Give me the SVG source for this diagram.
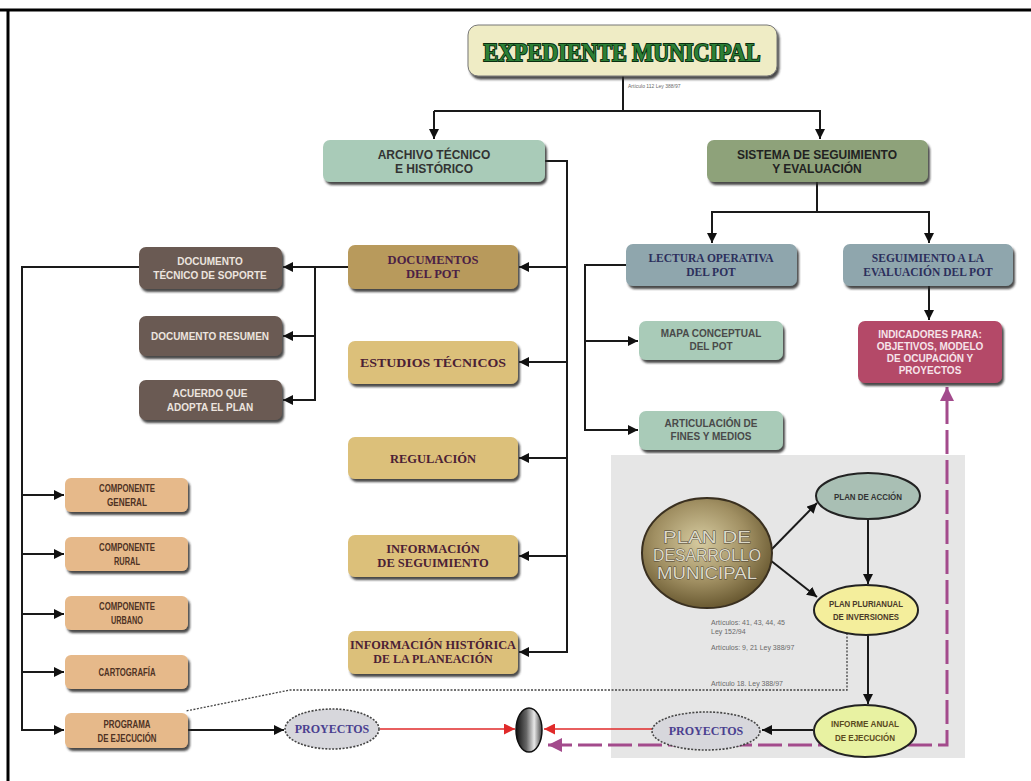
<svg xmlns="http://www.w3.org/2000/svg" width="1031" height="781" viewBox="0 0 1031 781">
<style>
.box{filter:url(#sh)}
.sans{font-family:"Liberation Sans",Arial,sans-serif;font-weight:bold;text-anchor:middle}
.serif{font-family:"Liberation Serif","Times New Roman",serif;font-weight:bold;text-anchor:middle}
.ln{fill:none;stroke:#1a1a1a;stroke-width:2}
.ar{marker-end:url(#ah)}
.small{font-family:"Liberation Sans",Arial,sans-serif;fill:#6a6a6a}
.comp{font-family:"Liberation Sans",Arial,sans-serif;font-weight:bold;text-anchor:middle;fill:#4e3224;font-size:10px}
.ell{font-family:"Liberation Sans",Arial,sans-serif;font-weight:bold;text-anchor:middle;font-size:9.5px}
.pdm{font-family:"Liberation Sans",Arial,sans-serif;font-size:17px;text-anchor:middle;fill:#dcd9c8;stroke:#4a4030;stroke-width:0.8;paint-order:stroke}
</style>
<defs>
<filter id="sh" x="-10%" y="-20%" width="130%" height="150%">
<feDropShadow dx="2" dy="3" stdDeviation="1" flood-color="#2a2a2a" flood-opacity="0.85"/>
</filter>
<marker id="ah" viewBox="0 0 10 10" refX="10" refY="5" markerWidth="10" markerHeight="10" markerUnits="userSpaceOnUse" orient="auto"><path d="M0,0 L10,5 L0,10 z" fill="#111"/></marker>
<marker id="ar" viewBox="0 0 10 10" refX="10" refY="5" markerWidth="11" markerHeight="11" markerUnits="userSpaceOnUse" orient="auto"><path d="M0,0 L10,5 L0,10 z" fill="#e02a2a"/></marker>
<marker id="am" viewBox="0 0 10 10" refX="10" refY="5" markerWidth="16" markerHeight="14" markerUnits="userSpaceOnUse" orient="auto-start-reverse"><path d="M0,0 L10,5 L0,10 z" fill="#a34b8c"/></marker>
<radialGradient id="pdm" cx="0.45" cy="0.4" r="0.6">
<stop offset="0" stop-color="#d6cba0"/><stop offset="0.6" stop-color="#a08f62"/><stop offset="1" stop-color="#6a5a32"/>
</radialGradient>
<linearGradient id="disk" x1="0" y1="0" x2="1" y2="0">
<stop offset="0" stop-color="#111"/><stop offset="0.4" stop-color="#666"/><stop offset="0.7" stop-color="#e8e8e8"/><stop offset="1" stop-color="#444"/>
</linearGradient>
</defs>
<rect width="1031" height="781" fill="#fff"/>
<path d="M0 10 H1031 M8 10 V781" stroke="#000" stroke-width="3" fill="none"/>
<rect x="611" y="455" width="354" height="303" fill="#e6e6e6"/>

<g id="connectors">
<path class="ln" d="M623 76 V111 H434"/>
<path class="ln ar" d="M434 111 V139"/>
<path class="ln ar" d="M623 111 H820 V139"/>
<path class="ln" d="M817 182 V212"/>
<path class="ln ar" d="M817 212 H712 V243"/>
<path class="ln ar" d="M817 212 H929 V243"/>
<path class="ln ar" d="M929 286 V320"/>
<path class="ln ar" d="M626 265 H585 V430 H638"/>
<path class="ln ar" d="M585 341 H638"/>
<path class="ln ar" d="M545 161 H567 V652 H519"/>
<path class="ln ar" d="M567 267 H519"/>
<path class="ln ar" d="M567 362 H519"/>
<path class="ln ar" d="M567 458 H519"/>
<path class="ln ar" d="M567 556 H519"/>
<path class="ln ar" d="M348 267 H283"/>
<path class="ln ar" d="M315 267 V400 H283"/>
<path class="ln ar" d="M315 336 H283"/>
<path class="ln ar" d="M139 267 H22 V730 H64"/>
<path class="ln ar" d="M22 495 H64"/>
<path class="ln ar" d="M22 554 H64"/>
<path class="ln ar" d="M22 614 H64"/>
<path class="ln ar" d="M22 672 H64"/>
<path class="ln ar" d="M188 730 H284"/>
<path d="M380 729 H515" stroke="#e02a2a" stroke-width="1.5" fill="none" marker-end="url(#ar)"/>
<path d="M652 729 H544" stroke="#e02a2a" stroke-width="1.5" fill="none" marker-end="url(#ar)"/>
<path class="ln ar" d="M813 730 H762"/>
<path class="ln ar" d="M770 551 L817 503"/>
<path class="ln ar" d="M770 560 L817 597"/>
<path class="ln ar" d="M868 519 V584"/>
<path class="ln ar" d="M868 635 V704"/>
<path d="M847 633 V690 H290 L186 711" stroke="#444" stroke-width="1.3" stroke-dasharray="2 1.5" fill="none"/>
<path d="M548 745 H947 V387" stroke="#a34b8c" stroke-width="3" stroke-dasharray="24 6" fill="none" marker-start="url(#am)" marker-end="url(#am)"/>
</g>

<g id="title">
<rect class="box" x="468" y="25" width="309" height="51" rx="10" fill="#efecc5" stroke="#777" stroke-width="1"/>
<text x="622" y="61" font-family="Liberation Serif,serif" font-weight="bold" font-size="25" text-anchor="middle" fill="#2c7f36" stroke="#0b2e10" stroke-width="2" paint-order="stroke" textLength="277" lengthAdjust="spacingAndGlyphs">EXPEDIENTE MUNICIPAL</text>
<text class="small" x="628" y="88" font-size="5">Artículo 112 Ley 388/97</text>
</g>

<g id="archivo">
<rect class="box" x="323" y="140" width="222" height="42" rx="7" fill="#a9cbb8"/>
<text class="sans" x="434" y="159" font-size="12" fill="#333">ARCHIVO TÉCNICO</text>
<text class="sans" x="434" y="173" font-size="12" fill="#333">E HISTÓRICO</text>
</g>
<g id="sistema">
<rect class="box" x="707" y="140" width="221" height="42" rx="7" fill="#8ea27a"/>
<text class="sans" x="817" y="159" font-size="12" fill="#222">SISTEMA DE SEGUIMIENTO</text>
<text class="sans" x="817" y="173" font-size="12" fill="#222">Y EVALUACIÓN</text>
</g>
<g id="lectura">
<rect class="box" x="626" y="244" width="171" height="42" rx="7" fill="#8fa6ad"/>
<text class="serif" x="711" y="262" font-size="11.5" fill="#2c2f5c">LECTURA OPERATIVA</text>
<text class="serif" x="711" y="276" font-size="11.5" fill="#2c2f5c">DEL POT</text>
</g>
<g id="seguimiento">
<rect class="box" x="843" y="244" width="170" height="42" rx="7" fill="#8fa6ad"/>
<text class="serif" x="928" y="262" font-size="11.5" fill="#2c2f5c">SEGUIMIENTO A LA</text>
<text class="serif" x="928" y="276" font-size="11.5" fill="#2c2f5c">EVALUACIÓN DEL POT</text>
</g>
<g id="indicadores">
<rect class="box" x="858" y="321" width="144" height="62" rx="7" fill="#b44a67"/>
<text class="sans" x="930" y="338" font-size="10" fill="#f6e4ea">INDICADORES PARA:</text>
<text class="sans" x="930" y="350" font-size="10" fill="#f6e4ea">OBJETIVOS, MODELO</text>
<text class="sans" x="930" y="362" font-size="10" fill="#f6e4ea">DE OCUPACIÓN Y</text>
<text class="sans" x="930" y="374" font-size="10" fill="#f6e4ea">PROYECTOS</text>
</g>
<g id="mapa">
<rect class="box" x="639" y="321" width="144" height="39" rx="7" fill="#a9cbb8"/>
<text class="sans" x="711" y="337" font-size="10" fill="#4a4a4a">MAPA CONCEPTUAL</text>
<text class="sans" x="711" y="350" font-size="10" fill="#4a4a4a">DEL POT</text>
</g>
<g id="articulacion">
<rect class="box" x="639" y="411" width="144" height="39" rx="7" fill="#a9cbb8"/>
<text class="sans" x="711" y="427" font-size="10" fill="#4a4a4a">ARTICULACIÓN DE</text>
<text class="sans" x="711" y="440" font-size="10" fill="#4a4a4a">FINES Y MEDIOS</text>
</g>

<g id="documentos">
<rect class="box" x="348" y="245" width="170" height="44" rx="7" fill="#b89a5c"/>
<text class="serif" x="433" y="264" font-size="12.5" fill="#4b2145">DOCUMENTOS</text>
<text class="serif" x="433" y="278" font-size="12.5" fill="#4b2145">DEL POT</text>
</g>
<g id="estudios">
<rect class="box" x="348" y="341" width="170" height="43" rx="7" fill="#dcc07a"/>
<text class="serif" x="433" y="367" font-size="12.5" fill="#4b2135" textLength="146" lengthAdjust="spacingAndGlyphs">ESTUDIOS TÉCNICOS</text>
</g>
<g id="regulacion">
<rect class="box" x="348" y="437" width="170" height="42" rx="7" fill="#dcc07a"/>
<text class="serif" x="433" y="463" font-size="12.5" fill="#4b2135">REGULACIÓN</text>
</g>
<g id="info-seguimiento">
<rect class="box" x="348" y="535" width="170" height="42" rx="7" fill="#dcc07a"/>
<text class="serif" x="433" y="553" font-size="12.5" fill="#4b2135">INFORMACIÓN</text>
<text class="serif" x="433" y="567" font-size="12.5" fill="#4b2135">DE SEGUIMIENTO</text>
</g>
<g id="info-historica">
<rect class="box" x="348" y="631" width="170" height="43" rx="7" fill="#dcc07a"/>
<text class="serif" x="433" y="649" font-size="12" fill="#4b2135" textLength="166" lengthAdjust="spacingAndGlyphs">INFORMACIÓN HISTÓRICA</text>
<text class="serif" x="433" y="663" font-size="12" fill="#4b2135">DE LA PLANEACIÓN</text>
</g>

<g id="doc-tecnico">
<rect class="box" x="139" y="247" width="143" height="42" rx="7" fill="#6b5a52"/>
<text class="sans" x="210" y="265" font-size="10" fill="#ece4df">DOCUMENTO</text>
<text class="sans" x="210" y="279" font-size="10" fill="#ece4df">TÉCNICO DE SOPORTE</text>
</g>
<g id="doc-resumen">
<rect class="box" x="139" y="316" width="143" height="40" rx="7" fill="#6b5a52"/>
<text class="sans" x="210" y="340" font-size="10" fill="#ece4df">DOCUMENTO RESUMEN</text>
</g>
<g id="acuerdo">
<rect class="box" x="139" y="380" width="143" height="40" rx="7" fill="#6b5a52"/>
<text class="sans" x="210" y="397" font-size="10" fill="#ece4df">ACUERDO QUE</text>
<text class="sans" x="210" y="411" font-size="10" fill="#ece4df">ADOPTA EL PLAN</text>
</g>

<g id="comp-general">
<rect class="box" x="65" y="478" width="123" height="34" rx="6" fill="#e6b98a"/>
<text class="comp" x="127" y="492" textLength="56" lengthAdjust="spacingAndGlyphs">COMPONENTE</text>
<text class="comp" x="127" y="506" textLength="40" lengthAdjust="spacingAndGlyphs">GENERAL</text>
</g>
<g id="comp-rural">
<rect class="box" x="65" y="537" width="123" height="34" rx="6" fill="#e6b98a"/>
<text class="comp" x="127" y="551" textLength="56" lengthAdjust="spacingAndGlyphs">COMPONENTE</text>
<text class="comp" x="127" y="565" textLength="26" lengthAdjust="spacingAndGlyphs">RURAL</text>
</g>
<g id="comp-urbano">
<rect class="box" x="65" y="596" width="123" height="34" rx="6" fill="#e6b98a"/>
<text class="comp" x="127" y="610" textLength="56" lengthAdjust="spacingAndGlyphs">COMPONENTE</text>
<text class="comp" x="127" y="624" textLength="32" lengthAdjust="spacingAndGlyphs">URBANO</text>
</g>
<g id="cartografia">
<rect class="box" x="65" y="655" width="123" height="34" rx="6" fill="#e6b98a"/>
<text class="comp" x="127" y="676" textLength="57" lengthAdjust="spacingAndGlyphs">CARTOGRAFÍA</text>
</g>
<g id="programa">
<rect class="box" x="65" y="713" width="123" height="35" rx="6" fill="#e6b98a"/>
<text class="comp" x="127" y="728" textLength="47" lengthAdjust="spacingAndGlyphs">PROGRAMA</text>
<text class="comp" x="127" y="742" textLength="59" lengthAdjust="spacingAndGlyphs">DE EJECUCIÓN</text>
</g>

<g id="proyectos-1">
<ellipse cx="332" cy="729" rx="47" ry="20" fill="#d7d7dc" stroke="#444" stroke-width="1.6" stroke-dasharray="2 1.5"/>
<text class="serif" x="332" y="733" font-size="12" fill="#4a4090">PROYECTOS</text>
</g>
<g id="disco">
<ellipse cx="529" cy="730" rx="13" ry="22" fill="url(#disk)" stroke="#111" stroke-width="1.5"/>
</g>
<g id="proyectos-2">
<ellipse cx="706" cy="731" rx="54" ry="19" fill="#d7d7dc" stroke="#444" stroke-width="1.6" stroke-dasharray="2 1.5"/>
<text class="serif" x="706" y="735" font-size="12" fill="#4a4090">PROYECTOS</text>
</g>

<g id="plan-desarrollo">
<ellipse cx="707" cy="553" rx="65" ry="55" fill="url(#pdm)" stroke="#3a3020" stroke-width="2"/>
<text class="pdm" x="707" y="543" textLength="88" lengthAdjust="spacingAndGlyphs">PLAN DE</text>
<text class="pdm" x="707" y="561" textLength="108" lengthAdjust="spacingAndGlyphs">DESARROLLO</text>
<text class="pdm" x="707" y="579" textLength="100" lengthAdjust="spacingAndGlyphs">MUNICIPAL</text>
</g>
<g id="plan-accion">
<ellipse cx="868" cy="496" rx="52" ry="23" fill="#a9bfb4" stroke="#222" stroke-width="2"/>
<text class="ell" x="868" y="500" fill="#333" textLength="68" lengthAdjust="spacingAndGlyphs">PLAN DE ACCIÓN</text>
</g>
<g id="plan-plurianual">
<ellipse cx="866" cy="610" rx="52" ry="25" fill="#f4ee9c" stroke="#222" stroke-width="2"/>
<text class="ell" x="866" y="607" fill="#4a3a2a" textLength="74" lengthAdjust="spacingAndGlyphs">PLAN PLURIANUAL</text>
<text class="ell" x="866" y="620" fill="#4a3a2a" textLength="66" lengthAdjust="spacingAndGlyphs">DE INVERSIONES</text>
</g>
<g id="informe-anual">
<ellipse cx="865" cy="731" rx="51" ry="26" fill="#e8f2a2" stroke="#222" stroke-width="2"/>
<text class="ell" x="865" y="727" fill="#5a4a20" textLength="68" lengthAdjust="spacingAndGlyphs">INFORME ANUAL</text>
<text class="ell" x="865" y="741" fill="#5a4a20" textLength="60" lengthAdjust="spacingAndGlyphs">DE EJECUCIÓN</text>
</g>

<g id="articulos">
<text class="small" x="711" y="625" font-size="7">Artículos: 41, 43, 44, 45</text>
<text class="small" x="711" y="634" font-size="7">Ley 152/94</text>
<text class="small" x="711" y="650" font-size="7">Artículos: 9, 21 Ley 388/97</text>
<text class="small" x="711" y="686" font-size="7">Artículo 18. Ley 388/97</text>
</g>
</svg>
